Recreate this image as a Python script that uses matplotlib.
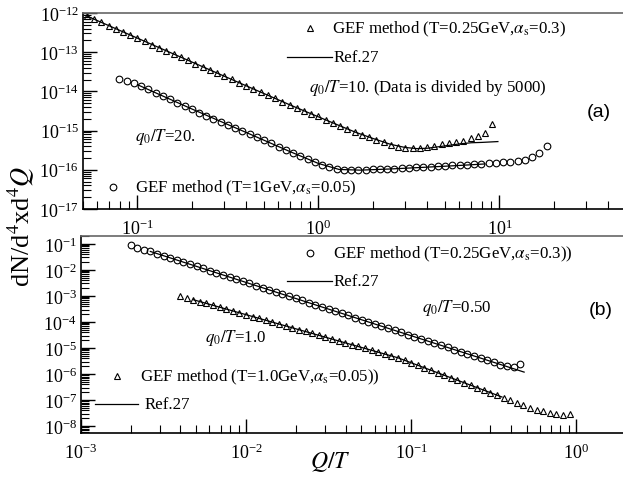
import numpy as np
import matplotlib
matplotlib.use("Agg")
import matplotlib.pyplot as plt
from matplotlib.ticker import LogLocator, NullFormatter

plt.rcParams["font.family"] = "serif"
plt.rcParams["font.serif"] = ["Liberation Serif", "DejaVu Serif"]
plt.rcParams["mathtext.fontset"] = "stix"
plt.rcParams["axes.unicode_minus"] = False

# ---- panel (a): q0/T = 10, T = 0.25 GeV (divided by 5000) ----
a_tri_x = [0.0525, 0.0575, 0.0631, 0.0692, 0.0759, 0.0832, 0.0912, 0.1000, 0.1096, 0.1202,
           0.1318, 0.1445, 0.1585, 0.1738, 0.1905, 0.2089, 0.2291, 0.2512, 0.2754, 0.3020,
           0.3311, 0.3631, 0.3981, 0.4365, 0.4786, 0.5248, 0.5754, 0.6310, 0.6918, 0.7586,
           0.8318, 0.9120, 1.000, 1.096, 1.202, 1.318, 1.445, 1.585, 1.738, 1.905,
           2.089, 2.291, 2.512, 2.754, 3.020, 3.311, 3.631, 3.981, 4.365, 4.786,
           5.248, 5.754, 6.310, 6.918, 7.586, 8.318, 9.120]
a_tri_y = [8.38e-13, 6.95e-13, 5.77e-13, 4.79e-13, 3.98e-13, 3.30e-13, 2.74e-13, 2.28e-13, 1.89e-13, 1.57e-13,
           1.30e-13, 1.08e-13, 8.98e-14, 7.46e-14, 6.19e-14, 5.14e-14, 4.27e-14, 3.54e-14, 2.94e-14, 2.44e-14,
           2.03e-14, 1.68e-14, 1.40e-14, 1.16e-14, 9.64e-15, 8.00e-15, 6.64e-15, 5.51e-15, 4.58e-15, 3.80e-15,
           3.16e-15, 2.62e-15, 2.34e-15, 1.91e-15, 1.55e-15, 1.32e-15, 1.10e-15, 9.3e-16, 7.9e-16, 6.9e-16,
           5.9e-16, 5.1e-16, 4.4e-16, 3.9e-16, 3.63e-16, 3.55e-16, 3.55e-16, 3.72e-16, 3.98e-16, 4.47e-16,
           4.79e-16, 5.13e-16, 5.5e-16, 6.3e-16, 7.1e-16, 8.9e-16, 1.45e-15]
a_ref_tri_x = [0.0525, 0.1, 0.2, 0.4, 0.7, 1.0, 1.3, 1.6, 2.0, 2.5, 3.0, 3.5, 4.0, 5.0, 6.0, 7.0, 8.0, 9.8]
a_ref_tri_y = [8.38e-13, 2.28e-13, 5.61e-14, 1.38e-14, 4.47e-15, 2.24e-15, 1.35e-15, 9.1e-16, 6.3e-16,
               4.47e-16, 3.72e-16, 3.47e-16, 3.55e-16, 4.07e-16, 4.57e-16, 4.9e-16, 5.0e-16, 5.25e-16]

# ---- panel (a): q0/T = 20, T = 1 GeV ----
a_cir_x = [0.0794, 0.0871, 0.0955, 0.1047, 0.1148, 0.1259, 0.1380, 0.1514, 0.1660, 0.1820,
           0.1995, 0.2188, 0.2399, 0.2630, 0.2884, 0.3162, 0.3467, 0.3802, 0.4169, 0.4571,
           0.5012, 0.5495, 0.6026, 0.6607, 0.7244, 0.7943, 0.8710, 0.9550, 1.047, 1.148,
           1.259, 1.380, 1.514, 1.660, 1.820, 1.995, 2.188, 2.399, 2.630, 2.884,
           3.162, 3.467, 3.802, 4.169, 4.571, 5.012, 5.495, 6.026, 6.607, 7.244,
           7.943, 8.710, 9.550, 10.47, 11.48, 12.59, 13.80, 15.14, 16.60, 18.20]
a_cir_y = [2.09e-14, 1.86e-14, 1.66e-14, 1.35e-14, 1.12e-14, 9.1e-15, 7.6e-15, 6.3e-15, 5.1e-15, 4.27e-15,
           3.55e-15, 2.88e-15, 2.40e-15, 2.00e-15, 1.66e-15, 1.38e-15, 1.15e-15, 9.5e-16, 8.1e-16, 6.8e-16,
           5.6e-16, 4.7e-16, 3.9e-16, 3.24e-16, 2.69e-16, 2.24e-16, 1.86e-16, 1.58e-16, 1.32e-16, 1.17e-16,
           1.05e-16, 1.00e-16, 9.8e-17, 9.8e-17, 1.00e-16, 1.02e-16, 1.05e-16, 1.05e-16, 1.07e-16, 1.10e-16,
           1.12e-16, 1.15e-16, 1.17e-16, 1.20e-16, 1.23e-16, 1.26e-16, 1.29e-16, 1.32e-16, 1.35e-16, 1.38e-16,
           1.41e-16, 1.45e-16, 1.48e-16, 1.58e-16, 1.62e-16, 1.66e-16, 1.78e-16, 2.14e-16, 2.69e-16, 4.07e-16]
a_ref_cir_x = [0.1, 0.2, 0.4, 0.7, 1.0, 1.3, 1.7, 2.5, 4.0, 6.0, 8.3]
a_ref_cir_y = [1.48e-14, 3.55e-15, 8.9e-16, 2.88e-16, 1.45e-16, 1.02e-16, 9.8e-17, 1.05e-16,
               1.17e-16, 1.29e-16, 1.41e-16]

# ---- panel (b): q0/T = 0.50, T = 0.25 GeV ----
b_cir_x = [0.001995, 0.002188, 0.002399, 0.002630, 0.002884, 0.003162, 0.003467, 0.003802, 0.004169, 0.004571,
           0.005012, 0.005495, 0.006026, 0.006607, 0.007244, 0.007943, 0.008710, 0.009550, 0.01047, 0.01148,
           0.01259, 0.01380, 0.01514, 0.01660, 0.01820, 0.01995, 0.02188, 0.02399, 0.02630, 0.02884,
           0.03162, 0.03467, 0.03802, 0.04169, 0.04571, 0.05012, 0.05495, 0.06026, 0.06607, 0.07244,
           0.07943, 0.08710, 0.09550, 0.1047, 0.1148, 0.1259, 0.1380, 0.1514, 0.1660, 0.1820,
           0.1995, 0.2188, 0.2399, 0.2630, 0.2884, 0.3162, 0.3467, 0.3802, 0.4169, 0.4571]
b_cir_y = [9.1e-2, 7.1e-2, 6.0e-2, 5.13e-2, 4.25e-2, 3.52e-2, 2.91e-2, 2.41e-2, 2.00e-2, 1.65e-2,
           1.37e-2, 1.13e-2, 9.4e-3, 7.8e-3, 6.4e-3, 5.3e-3, 4.4e-3, 3.65e-3, 3.02e-3, 2.50e-3,
           2.07e-3, 1.71e-3, 1.42e-3, 1.17e-3, 9.7e-4, 8.1e-4, 6.7e-4, 5.5e-4, 4.57e-4, 3.78e-4,
           3.13e-4, 2.59e-4, 2.15e-4, 1.78e-4, 1.47e-4, 1.22e-4, 1.01e-4, 8.4e-5, 6.9e-5, 5.7e-5,
           4.74e-5, 3.93e-5, 3.25e-5, 2.69e-5, 2.23e-5, 1.85e-5, 1.53e-5, 1.26e-5, 1.05e-5, 8.7e-6,
           7.2e-6, 5.9e-6, 4.9e-6, 4.07e-6, 3.37e-6, 2.79e-6, 2.31e-6, 2.00e-6, 1.82e-6, 2.51e-6]
b_ref_cir_x = [0.00263, 0.0316, 0.483]
b_ref_cir_y = [5.1e-2, 3.1e-4, 1.18e-6]

# ---- panel (b): q0/T = 1.0, T = 1.0 GeV ----
b_tri_x = [0.003981, 0.004365, 0.004786, 0.005248, 0.005754, 0.006310, 0.006918, 0.007586, 0.008318, 0.009120,
           0.01000, 0.01096, 0.01202, 0.01318, 0.01445, 0.01585, 0.01738, 0.01905, 0.02089, 0.02291,
           0.02512, 0.02754, 0.03020, 0.03311, 0.03631, 0.03981, 0.04365, 0.04786, 0.05248, 0.05754,
           0.06310, 0.06918, 0.07586, 0.08318, 0.09120, 0.1000, 0.1096, 0.1202, 0.1318, 0.1445,
           0.1585, 0.1738, 0.1905, 0.2089, 0.2291, 0.2512, 0.2754, 0.3020, 0.3311, 0.3631,
           0.3981, 0.4365, 0.4786, 0.5248, 0.5754, 0.6310, 0.6918, 0.7586, 0.8318, 0.9120]
b_tri_y = [1.00e-3, 8.47e-4, 7.18e-4, 6.08e-4, 5.15e-4, 4.37e-4, 3.70e-4, 3.13e-4, 2.65e-4, 2.25e-4,
           1.91e-4, 1.61e-4, 1.37e-4, 1.16e-4, 9.8e-5, 8.3e-5, 7.05e-5, 5.97e-5, 5.06e-5, 4.29e-5,
           3.63e-5, 3.08e-5, 2.61e-5, 2.21e-5, 1.87e-5, 1.58e-5, 1.34e-5, 1.14e-5, 9.6e-6, 8.2e-6,
           6.9e-6, 5.9e-6, 5.0e-6, 4.2e-6, 3.37e-6, 2.70e-6, 2.17e-6, 1.74e-6, 1.39e-6, 1.12e-6,
           8.95e-7, 7.18e-7, 5.75e-7, 4.61e-7, 3.70e-7, 2.96e-7, 2.38e-7, 1.91e-7, 1.53e-7, 1.22e-7,
           9.8e-8, 7.9e-8, 6.3e-8, 5.1e-8, 4.3e-8, 3.7e-8, 3.3e-8, 2.95e-8, 2.75e-8, 3.0e-8]
b_ref_tri_x = [0.0048, 0.083, 0.355]
b_ref_tri_y = [7.1e-4, 4.2e-6, 1.3e-7]

W, H = 623, 481
fig = plt.figure(figsize=(W / 100, H / 100), dpi=100)
ax1 = fig.add_axes([83 / W, (H - 210) / H, (626 - 83) / W, 196 / H])
ax2 = fig.add_axes([81 / W, (H - 434) / H, (626 - 81) / W, 197 / H])

mk = dict(mfc="none", mec="black", mew=0.8, ls="none")
tri = dict(marker="^", ms=5.0, **mk)
cir = dict(marker="o", ms=4.8, **mk)

ax1.plot(a_ref_tri_x, a_ref_tri_y, color="black", lw=0.9)
ax1.plot(a_ref_cir_x, a_ref_cir_y, color="black", lw=0.9)
ax1.plot(a_tri_x, a_tri_y, **tri)
ax1.plot(a_cir_x, a_cir_y, **cir)

ax2.plot(b_ref_cir_x, b_ref_cir_y, color="black", lw=0.9)
ax2.plot(b_ref_tri_x, b_ref_tri_y, color="black", lw=0.9)
ax2.plot(b_cir_x, b_cir_y, **cir)
ax2.plot(b_tri_x, b_tri_y, **tri)

ax1.set_xlim(0.05, 50)
ax1.set_ylim(1e-17, 1e-12)
ax2.set_xlim(1e-3, 2)
ax2.set_ylim(5.4e-9, 0.2)

for ax in (ax1, ax2):
    ax.set_xscale("log")
    ax.set_yscale("log")
    ax.xaxis.set_major_locator(LogLocator(base=10, numticks=20))
    ax.yaxis.set_major_locator(LogLocator(base=10, numticks=20))
    ax.xaxis.set_minor_locator(LogLocator(base=10, subs=np.arange(2, 10), numticks=100))
    ax.yaxis.set_minor_locator(LogLocator(base=10, subs=np.arange(2, 10), numticks=100))
    ax.xaxis.set_minor_formatter(NullFormatter())
    ax.yaxis.set_minor_formatter(NullFormatter())
    ax.tick_params(which="both", direction="in", top=False, right=False, labelsize=13)
    ax.tick_params(which="major", length=10, width=1.0)
    ax.tick_params(which="minor", length=6, width=0.8)
    ax.tick_params(axis="y", pad=3)
    ax.tick_params(axis="x", pad=7)
    for s in ax.spines.values():
        s.set_linewidth(1.2)
    ax.spines["top"].set_color("#666666")

fs = 12.2
tA = ax1.transAxes
ax1.plot([0.418], [0.923], transform=tA, clip_on=False, **tri)
ax1.text(0.4586, 0.923, r"GEF method (T=0.25GeV,$\alpha_{\rm s}$=0.3)", transform=tA, fontsize=fs, va="center")
ax1.plot([0.3757, 0.4586], [0.7755, 0.7755], transform=tA, color="black", lw=0.9)
ax1.text(0.462, 0.7755, "Ref.27", transform=tA, fontsize=fs, va="center")
ax1.text(0.416, 0.622, r"$q_{\it 0}/T$=10. (Data is divided by 5000)", transform=tA, fontsize=fs, va="center")
ax1.text(0.928, 0.495, "(a)", transform=tA, fontsize=14, va="center", family="Liberation Sans")
ax1.text(0.0958, 0.372, r"$q_{\it 0}/T$=20.", transform=tA, fontsize=fs, va="center")
ax1.plot([0.0552], [0.112], transform=tA, clip_on=False, **cir)
ax1.text(0.0958, 0.112, r"GEF method (T=1GeV,$\alpha_{\rm s}$=0.05)", transform=tA, fontsize=fs, va="center")

tB = ax2.transAxes
ax2.plot([0.420], [0.914], transform=tB, clip_on=False, **cir)
ax2.text(0.4624, 0.914, r"GEF method (T=0.25GeV,$\alpha_{\rm s}$=0.3))", transform=tB, fontsize=fs, va="center")
ax2.plot([0.378, 0.4606], [0.7716, 0.7716], transform=tB, color="black", lw=0.9)
ax2.text(0.464, 0.7716, "Ref.27", transform=tB, fontsize=fs, va="center")
ax2.text(0.6257, 0.6396, r"$q_{\it 0}/T$=0.50", transform=tB, fontsize=fs, va="center")
ax2.text(0.932, 0.6294, "(b)", transform=tB, fontsize=14, va="center", family="Liberation Sans")
ax2.text(0.2275, 0.487, r"$q_{\it 0}/T$=1.0", transform=tB, fontsize=fs, va="center")
ax2.plot([0.066], [0.289], transform=tB, clip_on=False, **tri)
ax2.text(0.108, 0.289, r"GEF method (T=1.0GeV,$\alpha_{\rm s}$=0.05))", transform=tB, fontsize=fs, va="center")
ax2.plot([0.0257, 0.1046], [0.147, 0.147], transform=tB, color="black", lw=0.9)
ax2.text(0.1158, 0.147, "Ref.27", transform=tB, fontsize=fs, va="center")

fig.text(0.033, 0.53, r"dN/d$^4$xd$^4$$Q$", rotation=90, fontsize=19, ha="center", va="center")
fig.text(0.530, 0.040, r"$Q/T$", fontsize=17, ha="center", va="center")

fig.savefig("out.png", dpi=100)
